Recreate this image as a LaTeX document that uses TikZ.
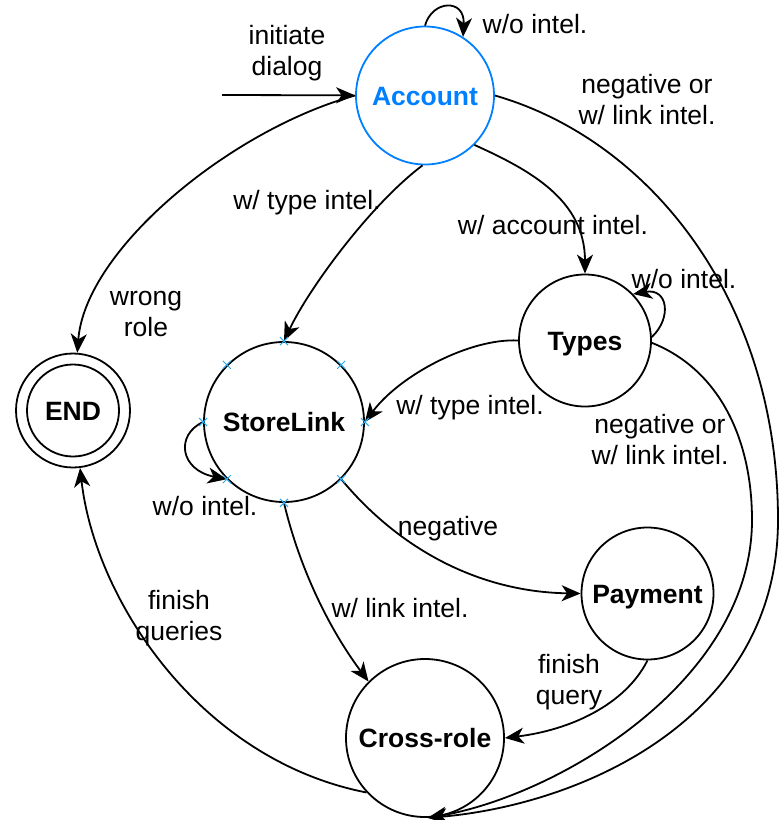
\documentclass[tikz,border=0pt]{standalone}
\usepackage{fontspec}
\setmainfont{Liberation Sans}
\usetikzlibrary{arrows.meta,shapes.misc}
\definecolor{accblue}{RGB}{0,127,255}
\definecolor{mkblue}{RGB}{40,170,240}
\begin{document}
\begin{tikzpicture}[x=1pt,y=-1pt,
  state/.style={circle,draw,line width=1.8pt,inner sep=0pt,text height=19pt,text depth=0pt,font=\fontsize{26.5}{31}\selectfont\bfseries},
  lbl/.style={align=center,inner sep=0pt,font=\fontsize{26.5}{31}\selectfont},
  conn/.style={line width=1.8pt,-{Stealth[length=19pt,width=16pt,inset=5.5pt]}},
  mk/.style={cross out,draw=mkblue,line width=1pt,minimum size=7pt,inner sep=0pt}]
\useasboundingbox (0,0) rectangle (782,820);
% states
\node[state,draw=accblue,text=accblue,minimum size=138pt] (acc) at (425,95.5) {Account};
\node[state,minimum size=132pt] (typ) at (585,340.5) {Types};
\node[state,minimum size=160pt] (sl) at (284,422) {StoreLink};
\node[state,minimum size=114pt] (endn) at (73,410.5) {END};
\node[circle,draw,line width=1.8pt,inner sep=0pt,minimum size=92pt] (endin) at (endn.center) {};
\node[state,minimum size=132pt] (pay) at (647.5,593.5) {Payment};
\node[state,minimum size=158pt] (cr) at (425,738) {Cross-role};
% connectors
\coordinate (init) at (222,95);
\draw[conn] (init) -- (acc);
\draw[conn] (acc.90) .. controls (432,0) and (465,-2) .. (acc.57);
\draw[conn] (acc.west) .. controls (230,130) and (85,250) .. (endn);
\draw[conn] (acc.268) .. controls (371,204) and (309,288) .. (sl.north);
\draw[conn] (acc.-45) .. controls (530,170) and (585,200) .. (typ.north);
\draw[conn] (typ.3) .. controls (672,318) and (668,288) .. (typ.44);
\draw[conn] (typ.west) .. controls (470,338) and (400,375) .. (sl.east);
\draw[conn] (typ.-2) .. controls (720,370) and (752,440) .. (752,520) .. controls (752,680) and (560,795) .. (cr.-88);
\draw[conn] (acc.east) .. controls (650,140) and (778,300) .. (778,520) .. controls (778,720) and (580,805) .. (cr.-88);
\draw[conn] (sl.west) .. controls (175,435) and (180,470) .. (sl.225);
\draw[conn] (sl.-45) .. controls (400,550) and (480,592) .. (pay.west);
\draw[conn] (sl.south) .. controls (300,570) and (330,630) .. (cr.135);
\draw[conn] (pay.south) .. controls (625,705) and (570,730) .. (cr.east);
\draw[conn] (cr.223) .. controls (200,760) and (95,600) .. (endn.-83);
% connection markers on StoreLink
\foreach \a in {0,45,...,315} \node[mk] (mk\a) at (sl.\a) {};
% labels
\node[lbl] (l1) at (287,53) {initiate\\dialog};
\node[lbl] (l2) at (535,24) {w/o intel.};
\node[lbl] (l3) at (647,100) {negative or\\w/ link intel.};
\node[lbl] (l4) at (307,203) {w/ type intel.};
\node[lbl] (l5) at (553,225) {w/ account intel.};
\node[lbl] (l6) at (146,314) {wrong\\role};
\node[lbl] (l7) at (684,279) {w/o intel.};
\node[lbl] (l8) at (470,408) {w/ type intel.};
\node[lbl] (l9) at (660,440) {negative or\\w/ link intel.};
\node[lbl] (l10) at (205,506) {w/o intel.};
\node[lbl] (l11) at (448,529) {negative};
\node[lbl] (l12) at (400,608) {w/ link intel.};
\node[lbl] (l13) at (179,618) {finish\\queries};
\node[lbl] (l14) at (569,682) {finish\\query};
\end{tikzpicture}
\end{document}
